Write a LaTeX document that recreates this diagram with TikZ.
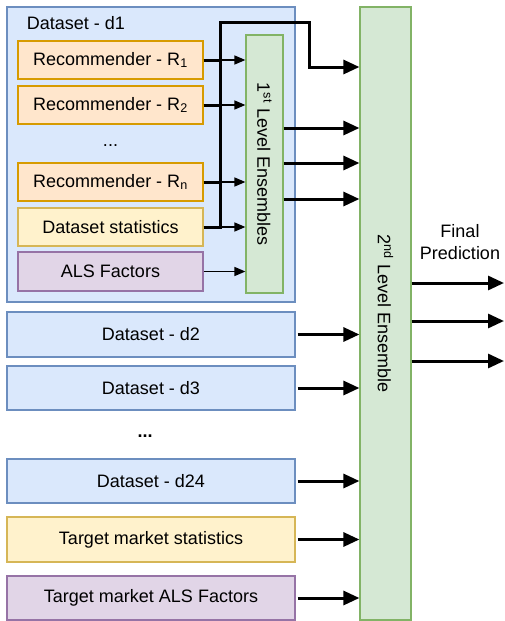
\documentclass[tikz,border=0pt]{standalone}
\usepackage{fontspec}
\setmainfont{Liberation Sans}
\usepackage{tikz}
\usetikzlibrary{arrows.meta,calc,positioning,shapes}
\definecolor{bluefill}{HTML}{DAE8FC}
\definecolor{blueline}{HTML}{6C8EBF}
\definecolor{orangefill}{HTML}{FFE6CC}
\definecolor{orangeline}{HTML}{D79B00}
\definecolor{yellowfill}{HTML}{FFF2CC}
\definecolor{yellowline}{HTML}{D6B656}
\definecolor{purplefill}{HTML}{E1D5E7}
\definecolor{purpleline}{HTML}{9673A6}
\definecolor{greenfill}{HTML}{D5E8D4}
\definecolor{greenline}{HTML}{82B366}

\begin{document}
\begin{tikzpicture}[x=1pt,y=-1pt,font=\fontsize{18}{22}\selectfont,
line width=1.2pt]
\tikzstyle{box}=[rectangle,draw,inner sep=0pt,line width=1.2pt]
\tikzstyle{datasetbox}=[box,fill=bluefill,draw=blueline,minimum width=288pt,minimum height=45pt]
\tikzstyle{recbox}=[box,fill=orangefill,draw=orangeline,minimum width=185pt,minimum height=38pt]
\tikzstyle{statbox}=[box,fill=yellowfill,draw=yellowline]
\tikzstyle{alsbox}=[box,fill=purplefill,draw=purpleline]
\tikzstyle{ensbox}=[box,fill=greenfill,draw=greenline]
\tikzstyle{thinarrow}=[line width=1.5pt,-{Triangle[length=11pt,width=9pt]}]
\tikzstyle{bigarrow}=[line width=3pt,-{Triangle[length=16pt,width=14pt]}]

\useasboundingbox (0,0) rectangle (504,621);

% dataset d1 with its recommenders
\node[datasetbox,minimum height=295pt] (ds1) at (151,154.5) {};
\node[anchor=west] (ds1label) at (23,23) {Dataset - d1};
\node[recbox] (rec1) at (110.5,60) {Recommender - R\textsubscript{1}};
\node[recbox] (rec2) at (110.5,105) {Recommender - R\textsubscript{2}};
\node (recdots) at (110.5,146) {...};
\node[recbox] (recn) at (110.5,182) {Recommender - R\textsubscript{n}};
\node[statbox,minimum width=185pt,minimum height=38pt] (stats) at (110.5,227) {Dataset statistics};
\node[alsbox,minimum width=185pt,minimum height=39pt] (als) at (110.5,271.5) {ALS Factors};
\node[ensbox,minimum width=37pt,minimum height=258pt] (ens1) at (264.5,164) {};
\node[rotate=-90] (ens1label) at (ens1.center) {1\textsuperscript{st} Level Ensembles};

% other datasets
\node[datasetbox] (ds2) at (151,334.5) {Dataset - d2};
\node[datasetbox,minimum height=44pt] (ds3) at (151,388) {Dataset - d3};
\node (dsdots) at (145,436) {\textbf{...}};
\node[datasetbox,minimum height=44pt] (ds24) at (151,481) {Dataset - d24};
\node[statbox,minimum width=288pt,minimum height=45pt] (tms) at (151,539.5) {Target market statistics};
\node[alsbox,minimum width=288pt,minimum height=44pt] (tma) at (151,598) {Target market ALS Factors};

% second level
\node[ensbox,minimum width=51pt,minimum height=613pt] (ens2) at (385.5,313.5) {};
\node[rotate=-90] (ens2label) at (ens2.center) {2\textsuperscript{nd} Level Ensemble};
\node[align=center] (final) at (460,242) {Final\\Prediction};

\coordinate (bustop) at (220,22);
\coordinate (busturn) at (309,22);
\coordinate (busin) at (309,67);
\coordinate (out1) at (504,283);
\coordinate (out2) at (504,321);
\coordinate (out3) at (504,361);

\foreach \n in {rec1,rec2,recn,stats,als}
\draw[thinarrow] (\n.east) -- (\n.east -| ens1.west);
\foreach \n in {rec1,rec2,recn}
\draw[line width=3pt] (\n.east) -- (\n.east -| bustop);
\draw[bigarrow] (stats.east) -| (bustop) -- (busturn) -- (busin) -- (busin -| ens2.west);

\foreach \y in {128,163,199}
\draw[bigarrow] (ens1.east |- 0,\y) -- (ens2.west |- 0,\y);
\foreach \n in {ds2,ds3,ds24,tms,tma}
\draw[bigarrow] ($(\n.east)+(2,0)$) -- (\n.east -| ens2.west);
\foreach \o in {out1,out2,out3}
\draw[bigarrow] (ens2.east |- \o) -- (\o);
\end{tikzpicture}
\end{document}
